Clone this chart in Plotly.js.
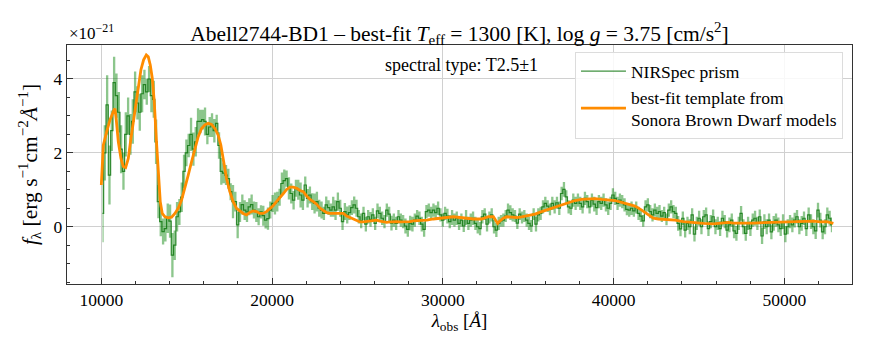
<!DOCTYPE html>
<html>
<head>
<meta charset="utf-8">
<script src="https://cdn.plot.ly/plotly-3.0.1.min.js"></script>
<style>
  body { margin: 0; background: #fff; }
  #plot { width: 872px; height: 349px; }
</style>
</head>
<body>
<div id="plot"></div>
<script>
// wavelength of each prism bin [Angstrom]
const lam = [
  10068, 10205, 10341, 10478, 10614, 10751, 10887, 11024, 11160, 11297,
  11433, 11570, 11706, 11843, 11979, 12116, 12252, 12389, 12525, 12662,
  12798, 12935, 13071, 13208, 13344, 13481, 13617, 13754, 13890, 14027,
  14163, 14300, 14436, 14573, 14709, 14846, 14982, 15119, 15255, 15392,
  15528, 15665, 15801, 15938, 16074, 16211, 16347, 16484, 16620, 16757,
  16893, 17030, 17166, 17303, 17439, 17576, 17712, 17849, 17985, 18122,
  18258, 18395, 18531, 18668, 18804, 18941, 19077, 19214, 19350, 19487,
  19623, 19760, 19896, 20033, 20169, 20306, 20442, 20579, 20715, 20852,
  20988, 21125, 21261, 21398, 21534, 21671, 21807, 21944, 22080, 22217,
  22353, 22490, 22626, 22763, 22899, 23036, 23172, 23309, 23445, 23582,
  23718, 23855, 23991, 24128, 24264, 24401, 24537, 24674, 24810, 24947,
  25083, 25220, 25356, 25493, 25629, 25766, 25902, 26039, 26175, 26312,
  26448, 26585, 26721, 26858, 26994, 27131, 27267, 27404, 27540, 27677,
  27813, 27950, 28086, 28223, 28359, 28496, 28632, 28769, 28905, 29042,
  29178, 29315, 29451, 29588, 29724, 29861, 29997, 30134, 30270, 30407,
  30543, 30680, 30816, 30953, 31089, 31226, 31362, 31499, 31635, 31772,
  31908, 32045, 32181, 32318, 32454, 32591, 32727, 32864, 33000, 33137,
  33273, 33410, 33546, 33683, 33819, 33956, 34092, 34229, 34365, 34502,
  34638, 34775, 34911, 35048, 35184, 35321, 35457, 35594, 35730, 35867,
  36003, 36140, 36276, 36413, 36549, 36686, 36822, 36959, 37095, 37232,
  37368, 37505, 37641, 37778, 37914, 38051, 38187, 38324, 38460, 38597,
  38733, 38870, 39006, 39143, 39279, 39416, 39552, 39689, 39825, 39962,
  40098, 40235, 40371, 40508, 40644, 40781, 40917, 41054, 41190, 41327,
  41463, 41600, 41736, 41873, 42009, 42146, 42282, 42419, 42555, 42692,
  42828, 42965, 43101, 43238, 43374, 43511, 43647, 43784, 43920, 44057,
  44193, 44330, 44466, 44603, 44739, 44876, 45012, 45149, 45285, 45422,
  45558, 45695, 45831, 45968, 46104, 46241, 46377, 46514, 46650, 46787,
  46923, 47060, 47196, 47333, 47469, 47606, 47742, 47879, 48015, 48152,
  48288, 48425, 48561, 48698, 48834, 48971, 49107, 49244, 49380, 49517,
  49653, 49790, 49926, 50063, 50199, 50336, 50472, 50609, 50745, 50882,
  51018, 51155, 51291, 51428, 51564, 51701, 51837, 51974, 52110, 52247,
  52383, 52520, 52656, 52793
];

// observed flux, units of 1e-21 erg/s/cm2/A
const flux = [
  0.36, 2.0, 3.3, 1.4, 2.6, 3.9, 3.55, 3.1, 2.1, 1.5,
  2.5, 3.0, 2.5, 2.85, 3.65, 3.35, 3.1, 3.6, 3.85, 3.65,
  4.0, 3.55, 3.45, 2.3, 0.68, 0.14, -0.13, -0.05, 0.23, 0.15,
  -0.77, -0.5, 0.27, 0.4, 0.8, 1.5, 2.0, 2.2, 2.5, 2.1,
  2.3, 2.85, 2.85, 2.9, 2.85, 2.5, 2.7, 2.75, 2.6, 2.8,
  2.2, 1.5, 1.45, 1.4, 1.3, 0.95, 0.68, 0.68, 0.05, 0.4,
  0.6, 0.45, 0.4, 0.54, 0.6, 0.45, 0.4, 0.27, 0.4, 0.3,
  0.18, 0.22, 0.45, 0.63, 0.63, 0.68, 0.8, 1.17, 1.25, 1.3,
  1.04, 0.9, 0.72, 1.04, 1.0, 0.86, 0.72, 1.13, 0.77, 0.86,
  0.68, 0.63, 0.68, 0.5, 0.45, 0.36, 0.59, 0.52, 0.45, 0.54,
  0.45, 0.68, 0.5, 0.14, 0.41, 0.32, 0.38, 0.52, 0.59, 0.5,
  0.27, 0.16, 0.36, 0.07, 0.27, 0.2, 0.32, 0.09, 0.43, 0.36,
  0.23, 0.14, 0.45, 0.34, 0.1, 0.18, 0.09, 0.27, 0.18, 0.14,
  0.02, -0.07, 0.1, 0.07, 0.18, 0.29, 0.23, 0.07, -0.07, 0.41,
  0.45, 0.38, 0.45, 0.38, 0.5, 0.32, 0.18, 0.36, 0.29, 0.14,
  0.25, 0.18, 0.23, 0.09, 0.18, 0.02, 0.25, 0.09, 0.18, 0.23,
  0.09, 0.0, -0.05, 0.27, 0.34, 0.07, 0.25, 0.32, 0.0, -0.09,
  0.09, 0.16, 0.18, 0.29, 0.45, 0.38, 0.32, 0.29, 0.1, 0.34,
  0.25, 0.29, 0.18, 0.09, 0.02, 0.34, 0.07, 0.32, 0.36, 0.54,
  0.63, 0.56, 0.47, 0.63, 0.54, 0.65, 0.5, 0.9, 1.01, 0.81,
  0.54, 0.5, 0.72, 0.63, 0.72, 0.63, 0.54, 0.77, 0.68, 0.54,
  0.72, 0.61, 0.52, 0.68, 0.63, 0.72, 0.59, 0.5, 0.63, 0.86,
  0.77, 0.63, 0.72, 0.68, 0.59, 0.47, 0.45, 0.5, 0.43, 0.52,
  0.36, 0.29, 0.16, 0.54, 0.59, 0.41, 0.32, 0.45, 0.36, 0.41,
  0.29, 0.38, 0.2, 0.45, 0.54, 0.41, 0.36, 0.09, -0.06, 0.23,
  -0.09, 0.09, 0.0, 0.32, -0.2, 0.09, 0.23, 0.0, 0.27, 0.32,
  -0.05, 0.14, 0.27, 0.0, 0.09, -0.05, 0.23, 0.14, -0.09, 0.05,
  0.18, -0.11, -0.18, 0.09, 0.36, 0.0, -0.18, 0.09, -0.05, 0.18,
  0.23, 0.09, 0.27, -0.25, 0.14, 0.0, 0.18, -0.14, 0.09, 0.18,
  0.05, -0.05, 0.14, -0.2, 0.0, 0.14, 0.05, 0.18, 0.27, 0.0,
  0.09, 0.23, -0.05, 0.32, 0.14, 0.0, -0.11, 0.45, 0.18, -0.14,
  0.0, 0.32, 0.23, 0.05
];

// 1-sigma uncertainty, same units
const fluxErr = [
  0.78, 0.75, 0.8, 0.8, 0.55, 0.7, 0.6, 0.55, 0.65, 0.5,
  0.6, 0.5, 0.55, 0.6, 0.55, 0.45, 0.5, 0.5, 0.4, 0.35,
  0.35, 0.45, 0.5, 0.6, 0.45, 0.4, 0.35, 0.35, 0.4, 0.45,
  0.6, 0.4, 0.4, 0.35, 0.4, 0.45, 0.36, 0.32, 0.45, 0.45,
  0.4, 0.36, 0.32, 0.27, 0.38, 0.27, 0.27, 0.32, 0.32, 0.23,
  0.36, 0.36, 0.27, 0.27, 0.27, 0.23, 0.45, 0.27, 0.36, 0.27,
  0.27, 0.27, 0.27, 0.23, 0.27, 0.23, 0.27, 0.23, 0.18, 0.27,
  0.23, 0.3, 0.23, 0.23, 0.3, 0.27, 0.23, 0.3, 0.3, 0.22,
  0.3, 0.27, 0.25, 0.23, 0.27, 0.34, 0.27, 0.23, 0.25, 0.23,
  0.23, 0.27, 0.27, 0.23, 0.23, 0.18, 0.23, 0.2, 0.18, 0.27,
  0.27, 0.25, 0.23, 0.23, 0.23, 0.23, 0.2, 0.2, 0.23, 0.23,
  0.18, 0.2, 0.18, 0.2, 0.18, 0.2, 0.18, 0.18, 0.2, 0.18,
  0.18, 0.18, 0.18, 0.2, 0.2, 0.18, 0.18, 0.18, 0.18, 0.18,
  0.2, 0.2, 0.2, 0.2, 0.18, 0.16, 0.18, 0.2, 0.2, 0.18,
  0.18, 0.16, 0.18, 0.2, 0.18, 0.18, 0.18, 0.18, 0.2, 0.18,
  0.2, 0.18, 0.18, 0.18, 0.18, 0.16, 0.2, 0.18, 0.18, 0.18,
  0.18, 0.18, 0.18, 0.18, 0.16, 0.2, 0.16, 0.18, 0.18, 0.19,
  0.18, 0.16, 0.18, 0.16, 0.18, 0.2, 0.18, 0.16, 0.16, 0.16,
  0.16, 0.16, 0.18, 0.18, 0.16, 0.16, 0.2, 0.18, 0.18, 0.18,
  0.18, 0.16, 0.16, 0.18, 0.18, 0.16, 0.18, 0.18, 0.2, 0.18,
  0.18, 0.18, 0.18, 0.18, 0.18, 0.18, 0.18, 0.18, 0.18, 0.18,
  0.18, 0.2, 0.2, 0.18, 0.18, 0.18, 0.18, 0.18, 0.18, 0.18,
  0.18, 0.18, 0.18, 0.18, 0.18, 0.16, 0.18, 0.18, 0.16, 0.16,
  0.18, 0.16, 0.16, 0.18, 0.18, 0.18, 0.18, 0.18, 0.18, 0.18,
  0.16, 0.16, 0.16, 0.18, 0.18, 0.18, 0.18, 0.2, 0.2, 0.18,
  0.2, 0.18, 0.2, 0.18, 0.2, 0.18, 0.2, 0.2, 0.18, 0.2,
  0.2, 0.18, 0.2, 0.2, 0.18, 0.2, 0.2, 0.18, 0.2, 0.2,
  0.18, 0.2, 0.2, 0.18, 0.2, 0.2, 0.2, 0.18, 0.2, 0.18,
  0.2, 0.18, 0.2, 0.22, 0.2, 0.2, 0.18, 0.2, 0.2, 0.18,
  0.2, 0.2, 0.2, 0.22, 0.2, 0.18, 0.2, 0.2, 0.18, 0.2,
  0.2, 0.18, 0.2, 0.2, 0.2, 0.2, 0.22, 0.2, 0.2, 0.2,
  0.2, 0.2, 0.2, 0.2
];

// best-fit Sonora template (Teff 1300 K, log g 3.75)
const tplLam = [
  10000, 10117, 10312, 10507, 10702, 10800, 10877, 10995, 11150, 11287,
  11424, 11580, 11735, 11872, 12008, 12165, 12320, 12477, 12633, 12750,
  12867, 12984, 13100, 13218, 13335, 13452, 13569, 13725, 13920, 14115,
  14310, 14505, 14700, 14895, 15090, 15285, 15480, 15675, 15870, 16065,
  16260, 16455, 16650, 16845, 17000, 17157, 17332, 17527, 17722, 17917,
  18112, 18307, 18502, 18697, 18892, 19087, 19282, 19477, 19672, 19867,
  20062, 20257, 20452, 20661, 20856, 21052, 21247, 21442, 21637, 21832,
  22028, 22223, 22418, 22613, 22808, 23004, 23199, 23394, 23589, 23784,
  23980, 24175, 24370, 24565, 24760, 24956, 25151, 25346, 25541, 25736,
  25932, 26127, 26322, 26517, 26712, 26908, 27103, 27298, 27493, 27688,
  27884, 28079, 28274, 28664, 29055, 29445, 29836, 30226, 30616, 31007,
  31397, 31788, 32277, 32668, 32961, 33097, 33214, 33351, 33546, 33741,
  34034, 34327, 34620, 35010, 35401, 35791, 36181, 36572, 36962, 37353,
  37743, 38133, 38524, 38914, 39305, 39695, 40085, 40476, 40866, 41257,
  41647, 42037, 42330, 42623, 43013, 43599, 44090, 44480, 44871, 45261,
  45847, 46432, 46725, 47018, 47603, 48189, 48775, 49360, 49946, 50531,
  51117, 51703, 52093, 52484, 52874
];
const tplFlux = [
  1.13, 2.21, 2.57, 2.89, 3.12, 3.2, 2.89, 2.3, 1.85, 1.63,
  1.6, 1.85, 2.39, 2.85, 3.3, 3.84, 4.25, 4.52, 4.65, 4.6,
  4.38, 4.02, 3.39, 2.39, 1.4, 0.68, 0.36, 0.27, 0.24, 0.26,
  0.36, 0.5, 0.72, 1.04, 1.4, 1.76, 2.12, 2.44, 2.66, 2.76,
  2.8, 2.77, 2.66, 2.48, 2.21, 1.76, 1.31, 0.95, 0.68, 0.5,
  0.42, 0.36, 0.32, 0.39, 0.43, 0.41, 0.36, 0.36, 0.41, 0.48,
  0.57, 0.68, 0.8, 0.9, 1.01, 1.07, 1.07, 1.04, 0.98, 0.95,
  0.83, 0.74, 0.68, 0.61, 0.5, 0.43, 0.38, 0.36, 0.36, 0.38,
  0.38, 0.36, 0.29, 0.25, 0.2, 0.15, 0.13, 0.13, 0.14, 0.15,
  0.18, 0.18, 0.15, 0.13, 0.12, 0.13, 0.14, 0.14, 0.13, 0.13,
  0.14, 0.14, 0.16, 0.16, 0.18, 0.21, 0.23, 0.25, 0.27, 0.25,
  0.23, 0.21, 0.21, 0.27, 0.27, 0.18, 0.09, 0.16, 0.23, 0.27,
  0.25, 0.25, 0.27, 0.31, 0.34, 0.41, 0.47, 0.54, 0.61, 0.66,
  0.71, 0.74, 0.76, 0.76, 0.74, 0.72, 0.71, 0.66, 0.61, 0.56,
  0.45, 0.32, 0.23, 0.21, 0.2, 0.18, 0.14, 0.12, 0.1, 0.09,
  0.08, 0.1, 0.12, 0.1, 0.09, 0.1, 0.11, 0.12, 0.13, 0.14,
  0.15, 0.15, 0.13, 0.14, 0.09
];

const fluxLo = flux.map((f, i) => f - fluxErr[i]);
const fluxHi = flux.map((f, i) => f + fluxErr[i]);

const serif = 'Liberation Serif';

const lo_trace = {
  x: lam, y: fluxLo,
  type: 'scatter', mode: 'lines',
  line: { width: 0, shape: 'hvh', color: 'rgba(0,128,0,0)' },
  showlegend: false, hoverinfo: 'skip'
};
const hi_trace = {
  x: lam, y: fluxHi,
  type: 'scatter', mode: 'lines',
  fill: 'tonexty', fillcolor: 'rgba(0,128,0,0.45)',
  line: { width: 0, shape: 'hvh', color: 'rgba(0,128,0,0)' },
  showlegend: false, hoverinfo: 'skip'
};
const spec_trace = {
  x: lam, y: flux,
  type: 'scatter', mode: 'lines',
  name: 'NIRSpec prism',
  line: { width: 1.2, shape: 'hvh', color: 'rgba(0,110,0,0.75)' }
};
const tpl_trace = {
  x: tplLam, y: tplFlux,
  type: 'scatter', mode: 'lines',
  name: 'best-fit template from<br>Sonora Brown Dwarf models',
  line: { width: 2.8, color: '#ff8c00' }
};

const axisCommon = {
  showline: true, linecolor: '#333', linewidth: 1.2, mirror: true,
  ticks: 'inside', ticklen: 6, tickcolor: '#333', tickwidth: 1,
  showgrid: true, gridcolor: '#d0d0d0', gridwidth: 1,
  zeroline: false,
  tickfont: { family: serif, size: 17.5, color: '#000' }
};

const layout = {
  width: 872, height: 349,
  margin: { l: 67, r: 20, t: 45, b: 65 },
  paper_bgcolor: '#fff', plot_bgcolor: '#fff',
  font: { family: serif, size: 17, color: '#000' },
  title: {
    text: 'Abell2744-BD1 – best-fit <i>T</i><sub>eff</sub> = 1300 [K], log <i>g</i> = 3.75 [cm/s<sup>2</sup>]',
    font: { family: serif, size: 21.5, color: '#000' },
    xref: 'paper', x: 0.5, xanchor: 'center',
    yref: 'container', y: 0.905, yanchor: 'middle'
  },
  xaxis: Object.assign({}, axisCommon, {
    range: [7990, 53965],
    tickvals: [10000, 20000, 30000, 40000, 50000],
    ticktext: ['10000', '20000', '30000', '40000', '50000'],
    minor: { dtick: 2000, tick0: 0, ticks: 'inside', ticklen: 3, tickcolor: '#333', showgrid: false },
    title: { text: '<i>λ</i><sub>obs</sub> [<i>Å</i>]', font: { family: serif, size: 19 }, standoff: 4 }
  }),
  yaxis: Object.assign({}, axisCommon, {
    range: [-1.55, 4.92],
    tickvals: [0, 2, 4],
    ticktext: ['0', '2', '4'],
    minor: { dtick: 0.5, tick0: 0, ticks: 'inside', ticklen: 3, tickcolor: '#333', showgrid: false },
    title: { text: '<i>f</i><sub>λ</sub> [erg s<sup>−1</sup>cm<sup>−2</sup><i>Å</i><sup>−1</sup>]', font: { family: serif, size: 21.5 }, standoff: 10 }
  }),
  legend: {
    x: 0.9885, xanchor: 'right', y: 0.97, yanchor: 'top',
    traceorder: 'normal',
    bgcolor: 'rgba(255,255,255,0.85)', bordercolor: '#dcdcdc', borderwidth: 1,
    font: { family: serif, size: 17.5, color: '#000' },
    itemwidth: 45,
    tracegroupgap: 0
  },
  annotations: [
    {
      text: '×10<sup>−21</sup>', xref: 'paper', yref: 'paper', x: 0, y: 1,
      xanchor: 'left', yanchor: 'bottom', showarrow: false,
      font: { family: serif, size: 17, color: '#000' }
    },
    {
      text: 'spectral type: T2.5±1', xref: 'paper', yref: 'paper', x: 0.502, y: 0.916,
      xanchor: 'center', yanchor: 'middle', showarrow: false,
      font: { family: serif, size: 18, color: '#000' }
    }
  ]
};

Plotly.newPlot('plot', [lo_trace, hi_trace, spec_trace, tpl_trace], layout, { displayModeBar: false, staticPlot: true });
</script>
</body>
</html>
